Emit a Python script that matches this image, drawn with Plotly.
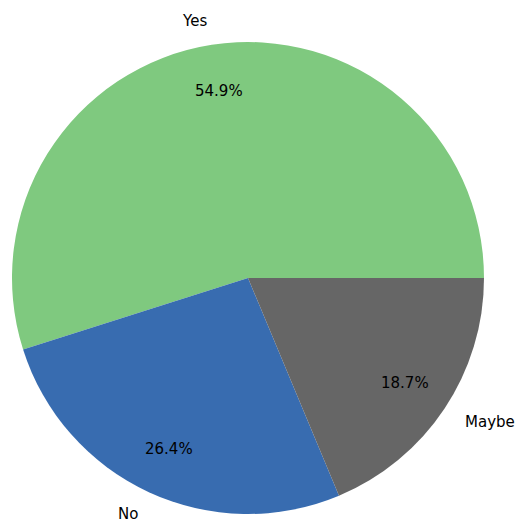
import math
import plotly.graph_objects as go

labels = ["Yes", "No", "Maybe"]
values = [54.9, 26.4, 18.7]
colors = ["#7fc97f", "#386cb0", "#666666"]

W, H = 516, 519
cx, cy, r = 248, 278, 236  # pie centre / radius in pixels

total = sum(values)
# plotly counterclockwise: first slice's clockwise edge sits at `rotation`;
# we want the first slice to start at 3 o'clock and run counterclockwise.
rotation = 90 - values[0] / total * 360

fig = go.Figure(go.Pie(
    labels=labels, values=values, sort=False, direction="counterclockwise",
    rotation=rotation, textinfo="none", hoverinfo="label+percent",
    marker=dict(colors=colors, line=dict(width=0)),
    domain=dict(x=[(cx - r) / W, (cx + r) / W],
                y=[(H - cy - r) / H, (H - cy + r) / H]),
    showlegend=False,
))

start = 0.0
annotations = []
font = dict(family="DejaVu Sans", size=15, color="black")
for lab, v in zip(labels, values):
    frac = v / total
    mid = math.radians((start + frac / 2) * 360)
    start += frac
    c, s = math.cos(mid), math.sin(mid)
    # outer label at 1.1 r
    lx, ly = cx + 1.1 * r * c, cy - 1.1 * r * s
    annotations.append(dict(
        x=lx / W, y=1 - ly / H, xref="paper", yref="paper", text=lab,
        showarrow=False, font=font, borderpad=0,
        xanchor="left" if c > 0 else "right", yanchor="middle"))
    # percentage at 0.8 r
    px_, py_ = cx + 0.8 * r * c, cy - 0.8 * r * s
    annotations.append(dict(
        x=px_ / W, y=1 - py_ / H, xref="paper", yref="paper",
        text=f"{100 * frac:.1f}%", showarrow=False, font=font, borderpad=0,
        xanchor="center", yanchor="middle"))

fig.update_layout(
    width=W, height=H, margin=dict(l=0, r=0, t=0, b=0),
    paper_bgcolor="white", plot_bgcolor="white",
    annotations=annotations,
)
fig.write_html("out.html", config={"displayModeBar": False},
               post_script="document.body.style.margin='0';document.body.style.padding='0';")
